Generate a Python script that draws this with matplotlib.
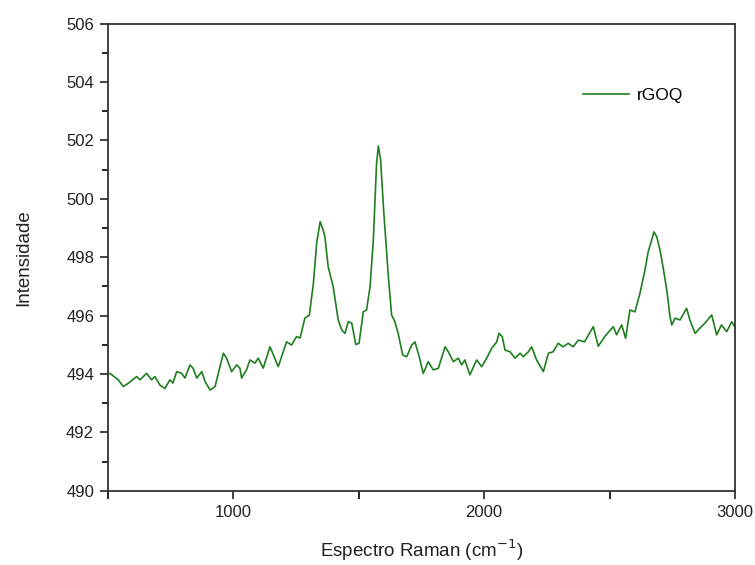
import matplotlib
matplotlib.use("Agg")
import matplotlib.pyplot as plt
from matplotlib.ticker import MultipleLocator

plt.rcParams['font.family'] = ['Liberation Sans', 'DejaVu Sans']

# Raman shift (cm-1) and intensity
raman_shift = [500, 508, 541, 561, 581, 614, 628, 654, 674, 687, 707, 727, 747, 759,
               774, 794, 807, 827, 839, 854, 874, 887, 907, 927, 960, 973, 993, 1013,
               1026, 1033, 1053, 1066, 1086, 1099, 1119, 1146, 1179, 1212, 1232, 1252,
               1266, 1285, 1303, 1319, 1332, 1346, 1358, 1365, 1378, 1398, 1418, 1432,
               1445, 1458, 1472, 1488, 1501, 1518, 1531, 1545, 1558, 1571, 1578, 1587,
               1600, 1618, 1631, 1644, 1657, 1675, 1691, 1711, 1724, 1741, 1757, 1777,
               1797, 1817, 1844, 1857, 1877, 1897, 1910, 1923, 1943, 1970, 1990, 2010,
               2030, 2050, 2059, 2072, 2083, 2103, 2123, 2143, 2156, 2176, 2189, 2209,
               2236, 2256, 2275, 2295, 2315, 2335, 2355, 2375, 2400, 2435, 2455, 2482,
               2515, 2528, 2548, 2564, 2581, 2601, 2621, 2641, 2654, 2668, 2677, 2688,
               2701, 2714, 2728, 2741, 2748, 2761, 2781, 2807, 2820, 2841, 2860, 2880,
               2907, 2927, 2946, 2967, 2987, 3000]
intensity = [494.00, 494.02, 493.80, 493.57, 493.68, 493.91, 493.80, 494.02, 493.80,
             493.91, 493.62, 493.50, 493.80, 493.69, 494.08, 494.02, 493.86, 494.31,
             494.20, 493.86, 494.08, 493.74, 493.45, 493.57, 494.71, 494.54, 494.08,
             494.31, 494.20, 493.86, 494.15, 494.48, 494.37, 494.54, 494.20, 494.93,
             494.25, 495.10, 494.99, 495.28, 495.23, 495.91, 496.02, 497.10, 498.48,
             499.22, 498.93, 498.70, 497.67, 496.99, 495.85, 495.51, 495.39, 495.79,
             495.74, 495.01, 495.05, 496.13, 496.19, 496.99, 498.59, 501.22, 501.81,
             501.33, 499.50, 497.33, 496.02, 495.79, 495.39, 494.65, 494.59, 494.99,
             495.10, 494.59, 494.02, 494.42, 494.14, 494.19, 494.93, 494.76, 494.42,
             494.54, 494.31, 494.48, 493.97, 494.48, 494.25, 494.54, 494.88, 495.10,
             495.39, 495.28, 494.82, 494.76, 494.54, 494.71, 494.59, 494.76, 494.93,
             494.48, 494.08, 494.71, 494.76, 495.05, 494.93, 495.05, 494.93, 495.16,
             495.10, 495.62, 494.95, 495.30, 495.62, 495.34, 495.68, 495.22, 496.19,
             496.13, 496.76, 497.56, 498.19, 498.59, 498.87, 498.70, 498.25, 497.62,
             496.88, 495.96, 495.68, 495.91, 495.85, 496.25, 495.85, 495.39, 495.57,
             495.74, 496.02, 495.34, 495.68, 495.45, 495.79, 495.60]
series_name = "rGOQ"

fig = plt.figure(figsize=(7.55, 5.65), dpi=100)
ax = fig.add_axes([0.143, 0.1315, 0.8305, 0.8265])

ax.plot(raman_shift, intensity, color='#1f7f1f', lw=1.2, label=series_name)

ax.set_xlim(500, 3000)
ax.set_ylim(490, 506)
ax.xaxis.set_major_locator(MultipleLocator(1000))
ax.xaxis.set_minor_locator(MultipleLocator(500))
ax.yaxis.set_major_locator(MultipleLocator(2))
ax.yaxis.set_minor_locator(MultipleLocator(1))
ax.tick_params(which='major', direction='out', length=6, width=1.2, labelsize=12,
               colors='#222222', pad=4)
ax.tick_params(which='minor', direction='out', length=4, width=1.2)
ax.tick_params(axis='x', which='minor', length=6)
for s in ax.spines.values():
    s.set_linewidth(1.3)
    s.set_color('#333333')

ax.set_xlabel("Espectro Raman (cm$^{-1}$)", fontsize=13.5, color='#222222', labelpad=13)
ax.set_ylabel("Intensidade", fontsize=13.5, color='#222222', labelpad=24)

ax.legend(loc='center left', bbox_to_anchor=(0.757, 0.847), frameon=False,
          fontsize=12.5, handlelength=2.7, handletextpad=0.45,
          borderpad=0, borderaxespad=0)

fig.savefig("out.png", dpi=100, facecolor='white')
